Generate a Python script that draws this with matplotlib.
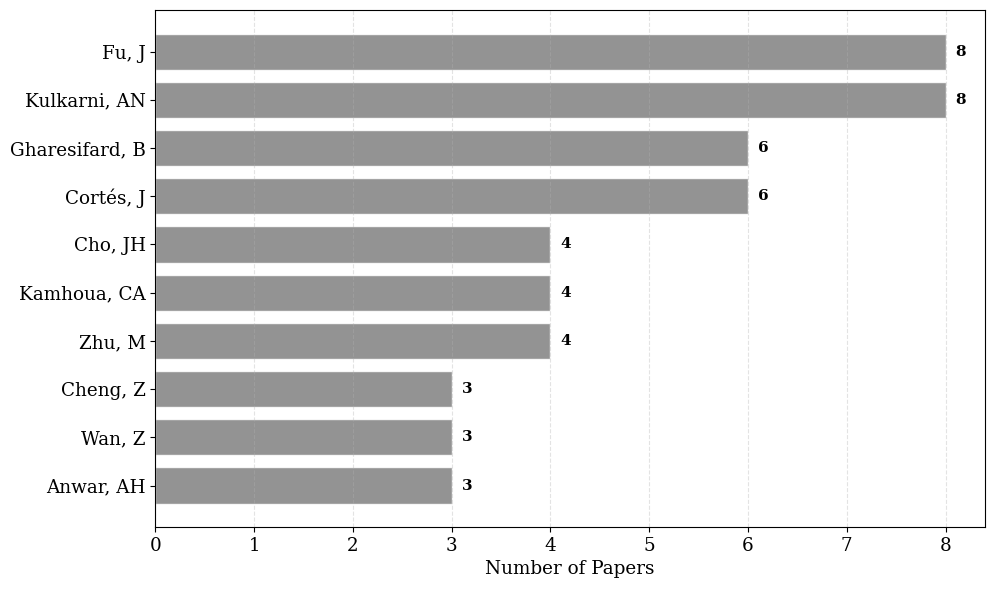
import matplotlib.pyplot as plt

plt.rcParams['font.family'] = 'DejaVu Serif'

authors = ['Fu, J', 'Kulkarni, AN', 'Gharesifard, B', 'Cortés, J', 'Cho, JH',
           'Kamhoua, CA', 'Zhu, M', 'Cheng, Z', 'Wan, Z', 'Anwar, AH']
papers = [8, 8, 6, 6, 4, 4, 4, 3, 3, 3]

fig, ax = plt.subplots(figsize=(9.96, 5.89), dpi=100)
fig.subplots_adjust(left=0.156, right=0.989, top=0.983, bottom=0.105)

ypos = list(range(len(authors)))[::-1]
ax.barh(ypos, papers, height=0.75, color='gray', alpha=0.85,
        edgecolor='white', linewidth=1)

for y, v in zip(ypos, papers):
    ax.text(v + 0.1, y, str(v), va='center', ha='left',
            fontsize=11, fontweight='bold')

ax.set_yticks(ypos)
ax.set_yticklabels(authors, fontsize=13.2)
ax.tick_params(axis='x', labelsize=13.2)
ax.set_xlim(0, max(papers) * 1.05)
ax.set_xlabel('Number of Papers', fontsize=13.2)
ax.grid(axis='x', linestyle='--', alpha=0.35)

fig.savefig('out.png', dpi=100)
